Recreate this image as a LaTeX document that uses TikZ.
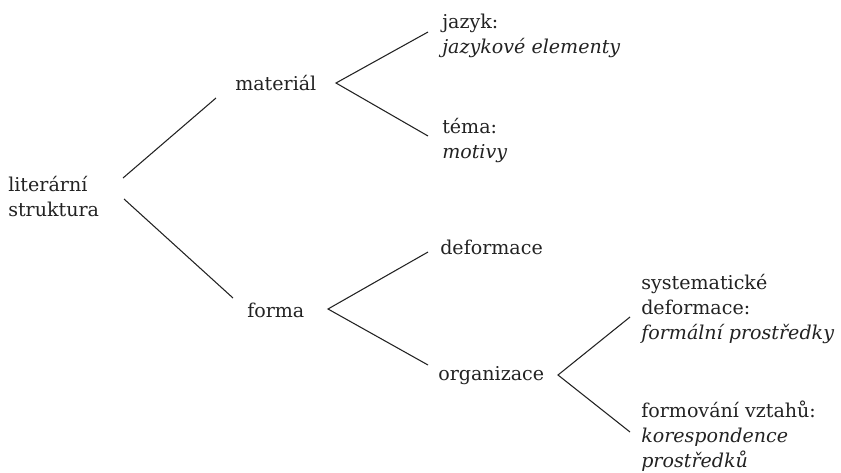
\documentclass[tikz,border=0pt]{standalone}
\usepackage{fontspec}
\setmainfont{DejaVu Serif}
\usepackage{tikz}
\definecolor{ink}{HTML}{222222}
\newcommand{\tstack}[1]{\begin{tabular}[t]{@{}l@{}}#1\end{tabular}}

\begin{document}
\begin{tikzpicture}[x=0.75pt,y=-0.75pt,
  word/.style={anchor=base west,inner sep=0pt,text=ink,
    font=\fontsize{14.3}{18.75}\selectfont},
  branch/.style={draw=ink,line width=0.8pt}]
\useasboundingbox (0,0) rectangle (841,472);
\node[word] (struct) at (8,191.5) {\tstack{literární\\struktura}};
\node[word] (mat) at (235,90) {materiál};
\node[word] (forma) at (247,317) {forma};
\node[word] (jazyk) at (442,28.5) {\tstack{jazyk:\\\textit{jazykové elementy}}};
\node[word] (tema) at (442,133.5) {\tstack{téma:\\\textit{motivy}}};
\node[word] (deform) at (440,254.5) {deformace};
\node[word] (organ) at (438,380) {organizace};
\node[word] (system) at (641,289.5) {\tstack{systematické\\deformace:\\\textit{formální prostředky}}};
\node[word] (vztahy) at (641,417.5) {\tstack{formování vztahů:\\\textit{korespondence}\\\textit{prostředků}}};
\draw[branch] ([shift={(115,-13.5)}]struct.base west) -- ([shift={(-19,8)}]mat.base west);
\draw[branch] ([shift={(116,7.5)}]struct.base west) -- ([shift={(-14,-19)}]forma.base west);
\draw[branch] ([shift={(-14,3.5)}]jazyk.base west) -- ([shift={(101,-7)}]mat.base west)
  -- ([shift={(-14,2.5)}]tema.base west);
\draw[branch] ([shift={(-12,-2.5)}]deform.base west) -- ([shift={(81,-8)}]forma.base west)
  -- ([shift={(-10,-15)}]organ.base west);
\draw[branch] ([shift={(-11,27.5)}]system.base west) -- ([shift={(120,-5)}]organ.base west)
  -- ([shift={(-11,14.5)}]vztahy.base west);
\end{tikzpicture}
\end{document}
